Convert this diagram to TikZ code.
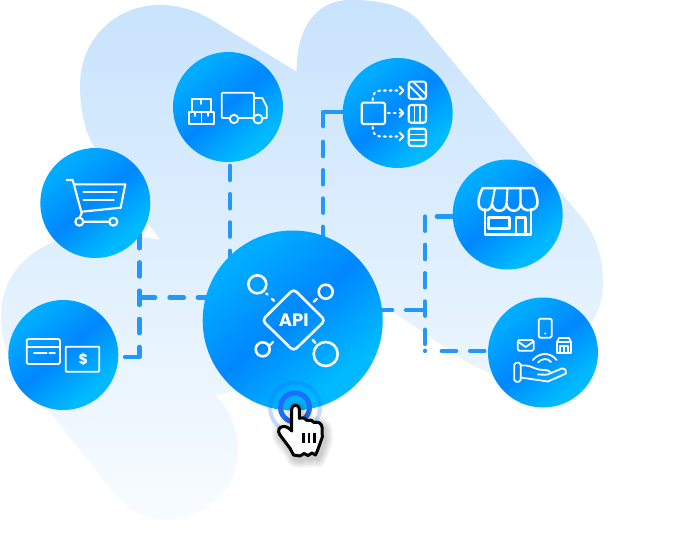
\documentclass[tikz,border=0pt]{standalone}
\usepackage{fontspec}
\newfontfamily\apifont{Poppins}
\definecolor{cA}{HTML}{00B9FF}
\definecolor{cB}{HTML}{0087FF}
\definecolor{cC}{HTML}{00ACFF}
\definecolor{blobT}{HTML}{C8E3FD}
\definecolor{blobB}{HTML}{F8FCFF}
\definecolor{dashc}{HTML}{2298FB}
\definecolor{ringc}{HTML}{1B6FFA}
\pgfdeclareverticalshading{circshade}{100bp}{color(0bp)=(cA); color(30bp)=(cA); color(51bp)=(cB); color(72bp)=(cC); color(100bp)=(cC)}
\pgfdeclarelayer{back}
\pgfsetlayers{back,main}
\tikzset{
  x=1pt,y=-1pt,
  disc/.style={circle,inner sep=0pt,minimum size=#1,shading=circshade,shading angle=40},
  conn/.style={dashc,line width=4.2pt,line cap=round,line join=round,dash pattern=on 14.4pt off 13.9pt},
  solidconn/.style={dashc,line width=4.2pt,line cap=round,line join=round},
  icon/.style={white,line width=2.1pt,line join=round,line cap=round},
  iconthin/.style={white,line width=1.8pt,line join=round,line cap=round},
  dottedlink/.style={icon,line width=2.2pt,dash pattern=on 1.8pt off 4pt},
}
\def\handpath{(291.7,409) .. controls (291.7,404) and (299.3,404) .. (299.3,409) -- (299.3,418.3)
 .. controls (303,417.5) and (306,418) .. (307,420.5) .. controls (310,419.5) and (313,420) .. (314,422.5)
 .. controls (318,421.5) and (321.5,423) .. (322,427) -- (322.3,437) -- (317.7,450) -- (315.5,455) -- (312,453) -- (308,455.5) -- (304,453.5) -- (300,456) -- (293.5,455)
 -- (290,448.3) -- (280,435) .. controls (277,431) and (279,427) .. (283,426.5) .. controls (286,426) and (289,428) .. (291.7,431) -- cycle}
\begin{document}
\begin{tikzpicture}
\useasboundingbox (0,0) rectangle (687,532);
\node[disc=110pt] (cart) at (95.3,203) {};
\node[disc=110pt] (truck) at (228,107) {};
\node[disc=110pt] (flow) at (397.7,113) {};
\node[disc=110pt] (store) at (507.7,214.5) {};
\node[disc=110pt] (hand) at (543,352.5) {};
\node[disc=110pt] (pay) at (63.3,355) {};
\node[disc=180pt] (api) at (292.7,320.5) {};
\coordinate (jl) at (139.5,297.5);
\coordinate (jr) at (425,310.3);
\coordinate (jf) at (323,112);
\coordinate (js) at (425,216.5);
\coordinate (jh) at (425,351);
\coordinate (ps) at (125,357);
\coordinate (pc) at (139.5,357);
\coordinate (pe) at (139.5,346.8);
\coordinate (lv) at (139.5,333.25);
\coordinate (lt) at (155.2,297.5);
\coordinate (lh) at (169.5,297.5);
\coordinate (tx) at (230,165.75);
\coordinate (fe) at (323,126.3);
\coordinate (fv) at (323,141.8);
\coordinate (re) at (392.2,310.3);
\coordinate (rs) at (406,310.3);
\coordinate (se) at (436.8,216.5);
\coordinate (sv) at (425,216.5);
\coordinate (ve) at (425,344);
\coordinate (de) at (425,350.6);
\coordinate (hs) at (441.75,351);
\begin{pgfonlayer}{back}
\fill[white] (0,0) rectangle (687,532);
\shade[top color=blobT,bottom color=blobB]
 (80,85) .. controls (80,40) and (115,5) .. (160,5) .. controls (185,5) and (205,15) .. (220,25)
 -- (296.7,71.7) .. controls (296,30) and (315,0) .. (350,0) .. controls (380,0) and (405,5) .. (420,22)
 -- (577,212) .. controls (595,232) and (603,255) .. (603,282) .. controls (603,310) and (590,330) .. (570,345)
 -- (540,378) .. controls (515,385) and (500,378) .. (487,372) -- (467,362) -- (383,305) -- (300,380) -- (215,395)
 .. controls (230,410) and (238,430) .. (238,450) .. controls (238,490) and (205,520) .. (165,520)
 .. controls (140,520) and (125,505) .. (115,495) -- (47,408) -- (15,365)
 .. controls (5,350) and (1,335) .. (1,315) .. controls (1,270) and (40,236) .. (90,235)
 .. controls (115,234) and (140,236) .. (160,240) -- (93,145) .. controls (84,130) and (80,105) .. (80,85) -- cycle;
% connectors
\draw[solidconn] (ps) -- (pc) -- (pe);
\draw[conn] (lv) -- (jl |- cart.center);
\draw[solidconn] (jl) -- (lt);
\draw[conn] (lh) -- (api.center |- jl);
\draw[conn] (tx) -- (tx |- api.center);
\draw[solidconn] (flow.center |- jf) -- (jf) -- (fe);
\draw[conn] (fv) -- (fv |- api.center);
\draw[solidconn] (api.center |- jr) -- (re);
\draw[solidconn] (rs) -- (jr);
\draw[solidconn] (store.center |- se) -- (se);
\draw[conn] (sv) -- (ve);
\draw[solidconn] (de) -- (jh);
\draw[conn] (hs) -- (hand.center |- hs);
\end{pgfonlayer}
% cart icon
\draw[icon] (66.7,180) -- (72.7,180) -- (81.7,213.3) -- (79.3,218);
\draw[icon] (74,184.3) -- (125.3,184.3) -- (120.7,207.7) -- (81.7,211.7);
\draw[iconthin] (83.3,192.3) -- (116.7,192.3) (83.3,200) -- (114,200);
\draw[icon] (79.3,221.7) circle (4) (113.3,221.7) circle (4) (83.3,221.7) -- (109.3,221.7);
% truck icon
\draw[iconthin] (229.5,118) -- (224,118) [rounded corners=1pt] -- (221.7,118) -- (221.7,92.7) -- (254,92.7) -- (254,118) -- (238.5,118);
\draw[iconthin] (254,98) -- (262.3,98) -- (266.7,106.7) -- (266.7,118) -- (263,118) (254,118) -- (253.5,118);
\draw[iconthin] (234,119) circle (4.2) (258,119) circle (4.5);
\draw[iconthin] (191.7,111.7) -- (191.7,98.7) -- (210.7,98.7) -- (210.7,111.7);
\draw[iconthin] (188.7,111.7) rectangle (214.3,124);
\draw[iconthin] (201.5,111.7) -- (201.5,124) (201.2,98.7) -- (201.2,104) (195,111.7) -- (195,116) (208,111.7) -- (208,116);
% flow icon
\draw[icon,rounded corners=1.5pt] (361.7,102.7) rectangle (385,124);
\draw[icon,rounded corners=2.5pt] (408.7,81.7) rectangle (426,99);
\draw[icon,rounded corners=2.5pt] (408.7,105) rectangle (426,122.7);
\draw[icon,rounded corners=2.5pt] (408.7,128.7) rectangle (426,146);
\draw[iconthin] (408.7,85) -- (422.7,99) (413,81.7) -- (426,94.7);
\draw[iconthin] (414.5,105) -- (414.5,122.7) (420.2,105) -- (420.2,122.7);
\draw[iconthin] (408.7,134.5) -- (426,134.5) (408.7,140.2) -- (426,140.2);
\draw[dottedlink] (372.7,100) .. controls (372.7,94) and (375,90.5) .. (381,90.5) -- (401,90.5);
\draw[dottedlink] (388,113) -- (401,113);
\draw[dottedlink] (372.7,127) .. controls (372.7,133) and (375,136.5) .. (381,136.5) -- (401,136.5);
\draw[icon] (399.5,86.5) -- (403.5,90.5) -- (399.5,94.5) (399.5,109) -- (403.5,113) -- (399.5,117) (399.5,132.5) -- (403.5,136.5) -- (399.5,140.5);
% store icon
\draw[icon,line width=2.5pt] (482.7,188) -- (533.3,188) .. controls (536,193) and (537.5,198) .. (537.5,203) .. controls (537.5,212) and (522,213) .. (520.5,204)
 .. controls (520,213) and (507.5,213) .. (506.5,204) .. controls (505.5,213) and (493,213) .. (492,204)
 .. controls (491,213) and (478.5,212) .. (478.5,203) .. controls (478.5,198) and (480,193) .. cycle;
\draw[icon] (492,204) -- (495,188) (506.5,204) -- (507.5,188) (520.5,204) -- (520.5,188);
\draw[icon,line width=2.5pt] (485,209) -- (485,234.3) -- (531,234.3) -- (531,209);
\draw[icon,line width=2.5pt] (488.3,217.3) rectangle (509.3,228.3);
\draw[icon,line width=2.5pt] (516,234.3) -- (516,217.3) -- (525.7,217.3) -- (525.7,234.3);
% hand icon
\draw[iconthin,rounded corners=1.5pt] (538.7,318.7) rectangle (551.7,337.7);
\fill[white] (545.2,333.5) circle (1.2);
\draw[iconthin,rounded corners=1.5pt] (517.7,340) rectangle (533.7,350.7);
\draw[iconthin] (518.5,342) -- (525.7,347) -- (533,342);
\draw[iconthin] (557,352.7) -- (571,352.7) -- (571,342) -- (557,342) -- cycle;
\draw[iconthin] (557,342) -- (559,338) -- (569,338) -- (571,342);
\draw[iconthin] (560,352.7) -- (560,346) -- (568,346) -- (568,352.7) (564,346) -- (564,352.7);
\draw[iconthin] (532.7,360) .. controls (540,352) and (550,352) .. (556.7,360);
\draw[iconthin] (538,362.5) .. controls (542,358) and (548,358) .. (551,362);
\draw[iconthin,rounded corners=1.8pt] (514.3,362.7) rectangle (520.7,381.7);
\draw[iconthin] (520.7,365.5) -- (526,365.5) .. controls (532,366) and (536,370) .. (543,370) .. controls (548,370) and (550,371) .. (551,373) .. controls (548,375.5) and (544,374.5) .. (538,374.5)
 (551,373) -- (561.7,368.5) .. controls (565,368) and (567,371) .. (566,373.5) -- (548,381.5) -- (520.7,377.5);
% pay icon
\draw[iconthin,rounded corners=1.5pt] (26.7,339) rectangle (60,364);
\draw[iconthin] (26.7,346.7) -- (60,346.7) (34,353.3) -- (46.7,353.3) (49.3,353.3) -- (55,353.3);
\draw[iconthin,rounded corners=.8pt] (65.7,346.7) rectangle (99.3,371.7);
\node[white,font=\apifont\bfseries\fontsize{14.5}{14.5}\selectfont,inner sep=0pt] (dollar) at (83.3,359.3) {\$};
% api icon
\draw[white,line width=2.6pt,line join=round,rounded corners=4pt] (293.7,289) -- (325.2,320.3) -- (293.7,351) -- (262.2,320.3) -- cycle;
\node[white,font=\apifont\bfseries\fontsize{18}{18}\selectfont,inner sep=0pt] (apilabel) at (293.7,320.5) {API};
\draw[white,line width=2.6pt] (257.3,284.3) circle (9) (325.7,291.7) circle (7) (262.7,349.3) circle (7) (325.7,354) circle (12);
\draw[white,line width=2.4pt,line cap=round] (266.3,293.5) -- (267.5,294.5) (272,299) -- (274,300.7)
  (313.7,301.7) -- (316.8,299) (270,345) -- (273,342) (312.7,340) -- (315.2,342.8);
% pulse rings
\draw[ringc,opacity=.25,line width=4pt] (295,407.5) circle (25);
\draw[ringc,line width=5pt] (295,407.5) circle (14.5);
% pointer shadow
\foreach \w in {17,13,9,5}{
  \begin{scope}[shift={(2,3.5)}]
  \draw[black,opacity=.05,line width=\w pt,line join=round] \handpath;
  \end{scope}
}
% pointer
\draw[black,fill=white,line width=3pt,line join=round] \handpath;
\draw[black,line width=2.8pt] (303.3,433) -- (303.3,443.3) (309,433) -- (309,443.3) (314.7,433) -- (314.7,443.3);
\end{tikzpicture}
\end{document}
